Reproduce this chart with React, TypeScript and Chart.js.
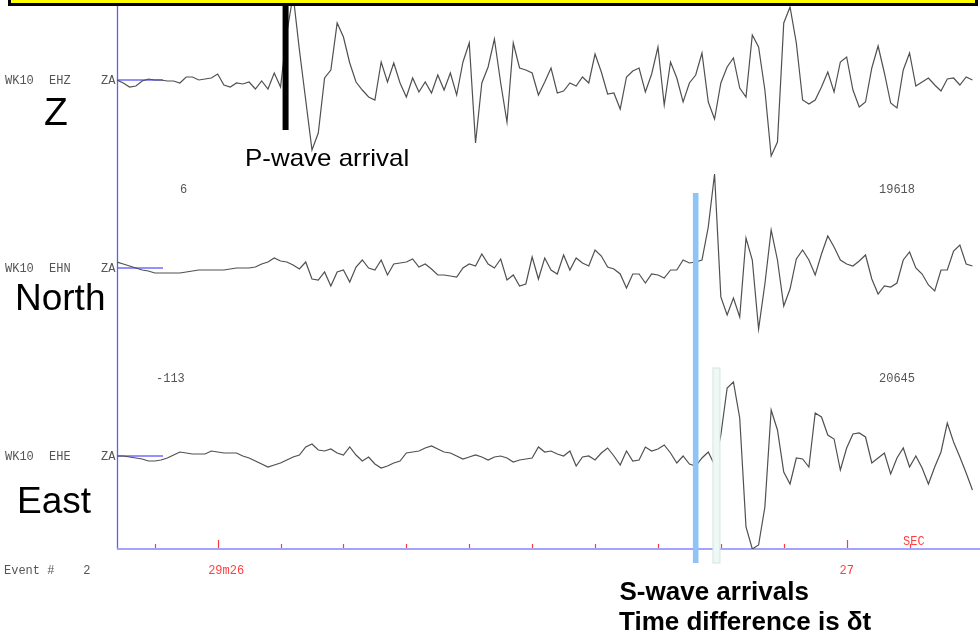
import React, { useEffect, useRef } from 'react';
import { Chart, registerables } from 'chart.js';

Chart.register(...registerables);

// ---- data ----
const startTime = 25.84; // seconds after 29m
const sampleInterval = 0.01; // 100 samples per second
const timeWindow = [25.84, 27.212];

const zAmp = [
  0, -3, -7, -6, -1, 1, 0, 0, -1, -1,
  -3, 3, 3, 0, 1, 2, 6, -5, -7, -3,
  -4, -2, -9, -1, -9, 7, -7, 47, 85, 30,
  -20, -70, -53, 2, 10, 57, 43, 17, -2, -10,
  -17, -20, 18, -2, 17, -3, -17, 2, -12, -2,
  -13, 5, -10, 7, -15, 18, 37, -63, -3, 13,
  41, -3, -42, 37, 12, 10, 7, -15, -2, 12,
  -13, -11, -3, -6, 3, -3, 26, 8, -14, -13,
  -29, 3, 9, 12, -12, 6, 33, -25, 18, 2,
  -22, -3, 5, 27, -22, -39, -3, 13, 22, -8,
  -17, 45, 33, -10, -76, -62, 57, 73, 37, -20,
  -24, -20, -7, 8, -12, 18, 23, -10, -27, -22,
  12, 34, 7, -23, -28, 10, 27, -6, -2, 2,
  -5, -11, 1, 2, -5, 3, 0,
];

const nAmp = [
  6, 4, 2, 0, -2, -3, -5, -5, -5, -5,
  -5, -4, -3, -2, -2, -2, -2, -2, -1, 0,
  0, 0, 1, 4, 6, 10, 7, 6, 3, -1,
  6, -11, -12, -4, -18, -4, -2, -14, 1, 8,
  0, -2, 8, -7, 4, 5, 6, 9, 1, 4,
  -1, -7, -7, -8, -9, 0, 4, 2, 14, 4,
  0, 9, -12, -7, -18, -16, 11, -11, 10, -2,
  -6, 13, -2, 10, 5, 2, 18, 12, 1, -1,
  -6, -20, -6, -6, -15, -6, -7, -10, -2, -2,
  8, 5, 6, 8, 41, 94, -29, -47, -30, -49,
  30, 8, -61, -16, 38, 8, -38, -21, 9, 18,
  8, -7, 14, 32, 21, 8, 4, 2, 7, 13,
  -11, -26, -18, -19, -15, 8, 16, 0, -6, -17,
  -23, -2, -2, 17, 23, 4, 2,
];

const eAmp = [
  0, 0, -1, -2, -3, -5, -5, -4, -2, 1,
  4, 3, 2, 2, 2, 5, 4, 3, 3, 3,
  0, -2, -5, -8, -11, -9, -7, -4, -1, 1,
  9, 12, 6, 5, 7, 3, 1, 9, 1, -5,
  -1, -8, -12, -10, -7, -5, 3, 4, 5, 8,
  10, 7, 4, 3, 0, -3, -1, 1, -1, -4,
  -1, 0, -2, -6, -4, -3, -2, 9, 4, 5,
  2, 0, 5, -10, -1, 0, -4, 3, 8, 0,
  -9, 5, -5, -4, 9, 5, 7, 11, 3, -7,
  0, -8, -10, -2, 4, -9, 21, 68, 74, 38,
  -71, -93, -89, -51, 46, 26, -16, -28, -2, -3,
  -11, 43, 39, 21, 17, -14, 8, 22, 23, 19,
  -7, -2, 3, -18, -2, 8, -11, 0, -12, -28,
  -11, 4, 33, 14, -1, -17, -34,
];

const tickTimes = [25.9, 26.0, 26.1, 26.2, 26.3, 26.4, 26.5, 26.6, 26.7, 26.8, 26.9, 27.0, 27.1];
const majorTickTimes = [26.0, 27.0];
const tickLabels = ['29m26', '27'];
const unitLabel = 'SEC';

const pArrivalTime = 26.108;
const sArrivalTimes = [26.760, 26.793];

const stationName = 'WK10';
const channels = ['EHZ', 'EHN', 'EHE'];
const networkTag = 'ZA';
const componentNames = ['Z', 'North', 'East'];
const rangeLow = ['6', '-113'];
const rangeHigh = ['19618', '20645'];
const eventLabel = 'Event #    2';

// ---- chart ----
const mono = "'Liberation Mono', 'Courier New', monospace";
const sans = "'Liberation Sans', Arial, sans-serif";

const toPoints = (amp: number[]) => amp.map((v, i) => ({ x: startTime + i * sampleInterval, y: v }));

const traceStyle = {
  borderColor: '#505050',
  borderWidth: 1.2,
  pointRadius: 0,
  tension: 0,
  fill: false,
};

const seismoPlugin = {
  id: 'seismo',
  beforeDatasetsDraw(chart: any) {
    const { ctx, chartArea: a, scales } = chart;
    ctx.save();
    // baseline markers
    ctx.strokeStyle = '#6c6cff';
    ctx.lineWidth = 1.5;
    ['yZ', 'yN', 'yE'].forEach((id) => {
      const y = scales[id].getPixelForValue(0);
      ctx.beginPath();
      ctx.moveTo(a.left, y);
      ctx.lineTo(a.left + 46, y);
      ctx.stroke();
    });
    // left axis
    ctx.strokeStyle = '#5c5cff';
    ctx.lineWidth = 1.3;
    ctx.beginPath();
    ctx.moveTo(a.left + 0.5, a.top);
    ctx.lineTo(a.left + 0.5, a.bottom);
    ctx.stroke();
    // bottom axis
    ctx.strokeStyle = '#a4a4ff';
    ctx.lineWidth = 2.2;
    ctx.beginPath();
    ctx.moveTo(a.left, a.bottom);
    ctx.lineTo(a.right, a.bottom);
    ctx.stroke();
    // ticks
    ctx.strokeStyle = '#ff3a3a';
    ctx.lineWidth = 1.2;
    tickTimes.forEach((t) => {
      const x = Math.round(scales.x.getPixelForValue(t)) + 0.5;
      const major = majorTickTimes.some((m) => Math.abs(m - t) < 1e-6);
      ctx.beginPath();
      ctx.moveTo(x, a.bottom - 1);
      ctx.lineTo(x, a.bottom - (major ? 9 : 5));
      ctx.stroke();
    });
    ctx.restore();
  },
  afterDatasetsDraw(chart: any) {
    const { ctx, chartArea: a, scales } = chart;
    ctx.save();
    // P arrival bar
    const px = scales.x.getPixelForValue(pArrivalTime);
    const pTop = scales.yZ.getPixelForValue(74);
    const pBot = scales.yZ.getPixelForValue(-50);
    ctx.fillStyle = '#000';
    ctx.fillRect(px - 3, pTop, 6, pBot - pTop);
    // S arrival bars
    const s1 = scales.x.getPixelForValue(sArrivalTimes[0]);
    const s1Top = scales.yN.getPixelForValue(75);
    const sBot = scales.yE.getPixelForValue(-107);
    ctx.fillStyle = '#8ec4f6';
    ctx.fillRect(s1 - 2.8, s1Top, 5.6, sBot - s1Top);
    const s2 = scales.x.getPixelForValue(sArrivalTimes[1]);
    const s2Top = scales.yE.getPixelForValue(88);
    ctx.fillStyle = '#eef8f4';
    ctx.fillRect(s2 - 3.5, s2Top, 7, sBot - s2Top);
    ctx.strokeStyle = '#d4e6df';
    ctx.lineWidth = 1;
    ctx.strokeRect(s2 - 3.5, s2Top, 7, sBot - s2Top);
    // tick labels
    ctx.font = `12px ${mono}`;
    ctx.fillStyle = '#ff4040';
    ctx.textBaseline = 'alphabetic';
    majorTickTimes.forEach((t, i) => {
      const x = scales.x.getPixelForValue(t);
      if (i === 0) {
        ctx.textAlign = 'left';
        ctx.fillText(tickLabels[i], x - 9.5, a.bottom + 25);
      } else {
        ctx.textAlign = 'center';
        ctx.fillText(tickLabels[i], x, a.bottom + 25);
      }
    });
    ctx.textAlign = 'left';
    ctx.fillText(unitLabel, scales.x.getPixelForValue(tickTimes[tickTimes.length - 1]) - 6.5, a.bottom - 4);
    ctx.restore();
  },
};

type TProps = { x: number; base: number; size: number; font: string; weight?: number; color?: string; sx?: number; children: React.ReactNode };
const Txt = ({ x, base, size, font, weight = 400, color = '#000', sx, children }: TProps) => {
  const k = font === mono ? 0.7665 : 0.8465;
  return (
    <div
      style={{
        position: 'absolute',
        left: x,
        top: base - k * size,
        fontFamily: font,
        fontSize: size,
        fontWeight: weight,
        lineHeight: `${size}px`,
        color,
        whiteSpace: 'pre',
        transform: sx ? `scaleX(${sx})` : undefined,
        transformOrigin: 'left top',
      }}
    >
      {children}
    </div>
  );
};

export default function App() {
  const ref = useRef<HTMLCanvasElement>(null);
  useEffect(() => {
    const chart = new Chart(ref.current as HTMLCanvasElement, {
      type: 'line',
      data: {
        datasets: [
          { label: channels[0], data: toPoints(zAmp), yAxisID: 'yZ', ...traceStyle },
          { label: channels[1], data: toPoints(nAmp), yAxisID: 'yN', ...traceStyle },
          { label: channels[2], data: toPoints(eAmp), yAxisID: 'yE', ...traceStyle },
        ],
      } as any,
      options: {
        animation: false,
        responsive: false,
        devicePixelRatio: 1,
        layout: { padding: { left: 117, right: 0, top: 0, bottom: 92 } },
        plugins: { legend: { display: false }, tooltip: { enabled: false } },
        events: [],
        scales: {
          x: { type: 'linear', display: false, min: timeWindow[0], max: timeWindow[1] },
          yZ: { type: 'linear', display: false, min: -469, max: 80 },
          yN: { type: 'linear', display: false, min: -281, max: 268 },
          yE: { type: 'linear', display: false, min: -93, max: 456 },
        },
      } as any,
      plugins: [seismoPlugin],
    });
    return () => chart.destroy();
  }, []);

  const baselines = [80, 268, 456];
  const gray = '#555';

  return (
    <div style={{ position: 'absolute', left: 0, top: 0, width: 980, height: 641, overflow: 'hidden', background: '#fff' }}>
      <canvas ref={ref} width={980} height={641} style={{ position: 'absolute', left: 0, top: 0, width: 980, height: 641 }} />
      {baselines.map((b, i) => (
        <React.Fragment key={i}>
          <Txt x={5} base={b + 4} size={12} font={mono} color={gray}>{stationName}</Txt>
          <Txt x={49} base={b + 4} size={12} font={mono} color={gray}>{channels[i]}</Txt>
          <Txt x={101} base={b + 4} size={12} font={mono} color={gray}>{networkTag}</Txt>
        </React.Fragment>
      ))}
      <Txt x={180} base={193.3} size={12} font={mono} color={gray}>{rangeLow[0]}</Txt>
      <Txt x={879} base={193.3} size={12} font={mono} color={gray}>{rangeHigh[0]}</Txt>
      <Txt x={156} base={381.7} size={12} font={mono} color={gray}>{rangeLow[1]}</Txt>
      <Txt x={879} base={381.7} size={12} font={mono} color={gray}>{rangeHigh[1]}</Txt>
      <Txt x={4} base={574.3} size={12} font={mono} color={gray}>{eventLabel}</Txt>

      <Txt x={44} base={125} size={39} font={sans}>{componentNames[0]}</Txt>
      <Txt x={15} base={310} size={37} font={sans}>{componentNames[1]}</Txt>
      <Txt x={17} base={513} size={37} font={sans}>{componentNames[2]}</Txt>

      <Txt x={245} base={166.7} size={24} font={sans} sx={1.08}>P-wave arrival</Txt>
      <Txt x={619.5} base={600} size={26} font={sans} weight={700}>S-wave arrivals</Txt>
      <Txt x={619} base={630} size={26} font={sans} weight={700}>Time difference is δt</Txt>

      <div
        style={{
          position: 'absolute',
          left: 8,
          top: -20,
          width: 970,
          height: 26,
          boxSizing: 'border-box',
          border: '3px solid #000',
          background: '#ffff00',
        }}
      />
    </div>
  );
}
